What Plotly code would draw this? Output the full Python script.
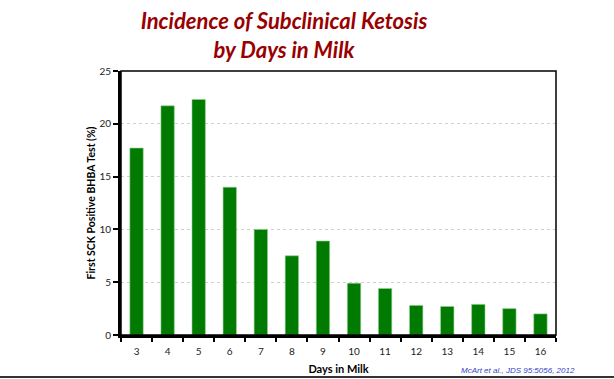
import plotly.graph_objects as go

days = ["3", "4", "5", "6", "7", "8", "9", "10", "11", "12", "13", "14", "15", "16"]
incidence = [17.7, 21.7, 22.3, 14.0, 10.0, 7.5, 8.9, 4.9, 4.4, 2.8, 2.7, 2.9, 2.5, 2.0]
y_ticks = [0, 5, 10, 15, 20, 25]

W, H = 614, 379
L, R, T, B = 121, 58, 71, 44
pw, ph = W - L - R, H - T - B

fig = go.Figure()
fig.add_trace(go.Bar(
    x=days, y=incidence,
    marker=dict(color="#007A00", line=dict(color="#8FD18F", width=0.6)),
    showlegend=False,
))

fig.update_layout(
    width=W, height=H,
    margin=dict(l=L, r=R, t=T, b=B, autoexpand=False),
    paper_bgcolor="white", plot_bgcolor="white",
    bargap=0.57,
    font=dict(family="Lato, Open Sans, sans-serif", color="#111111"),
    title=dict(
        text="<b><i>Incidence of Subclinical Ketosis<br>by Days in Milk</i></b>",
        x=284 / W, xanchor="center", y=1 - 29 / H, yanchor="middle",
        font=dict(family="Lato, Open Sans, sans-serif", size=22, color="#990000"),
    ),
    xaxis=dict(
        type="category",
        automargin=False,
        tickson="boundaries",
        ticks="outside", ticklen=4, tickwidth=2, tickcolor="black",
        ticklabelstandoff=5,
        showline=True, linewidth=3, linecolor="black",
        showgrid=False, zeroline=False,
        tickfont=dict(size=10, color="#222222"),
        title=dict(text="<b>Days in Milk</b>", font=dict(size=11, color="black"), standoff=10),
    ),
    yaxis=dict(
        range=[0, 25], tickvals=y_ticks,
        automargin=False,
        ticks="outside", ticklen=5, tickwidth=1.5, tickcolor="black",
        showline=True, linewidth=3, linecolor="black",
        showgrid=True, gridcolor="#D0D0D0", gridwidth=1, griddash="dot",
        zeroline=False,
        tickfont=dict(size=10, color="#222222"),
        title=dict(text="<b>First SCK Positive BHBA Test (%)</b>", font=dict(size=10.5, color="black"), standoff=2),
    ),
)

# thin frame on top/right
fig.add_shape(type="rect", xref="paper", yref="paper", x0=0, x1=1, y0=0, y1=1,
              line=dict(color="black", width=1.5), layer="above")

# footer line across the page
yb = -(377 - (T + ph)) / ph
fig.add_shape(type="line", xref="paper", yref="paper",
              x0=-L / pw, x1=(W - L) / pw, y0=yb, y1=yb,
              line=dict(color="#333333", width=2))

fig.add_annotation(
    text="<i>McArt et al., JDS 95:5056, 2012</i>",
    xref="paper", yref="paper",
    x=(577 - L) / pw, xanchor="right",
    y=-(370 - (T + ph)) / ph, yanchor="middle",
    showarrow=False,
    font=dict(family="Liberation Sans, Arial, sans-serif", size=8, color="#3344CC"),
)

fig.write_html("out.html", config={"displayModeBar": False},
               post_script="document.body.style.margin='0';document.body.style.overflow='hidden';")
